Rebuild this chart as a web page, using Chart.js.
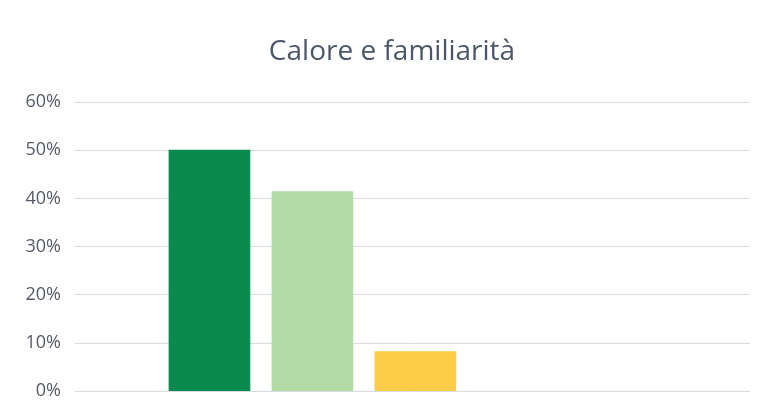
<!DOCTYPE html>
<html>
<head>
<meta charset="utf-8">
<script src="https://cdn.jsdelivr.net/npm/chart.js@4"></script>
<style>
  html, body { margin: 0; padding: 0; background: #ffffff; }
  #box { width: 767px; height: 416px; }
</style>
</head>
<body>
<div id="box"><canvas id="grafico"></canvas></div>
<script>
const titolo = "Calore e familiarità";
const categorie = [1, 2, 3];
const valori = [0.50, 0.414, 0.082];
const colori = ["#0b8a4f", "#b4daa5", "#fdcd48"];
const tickValori = [0, 0.1, 0.2, 0.3, 0.4, 0.5, 0.6];

const ctx = document.getElementById('grafico').getContext('2d');

// titolo disegnato a mano, un po' spostato a destra come nell'originale
const titoloPlugin = {
  id: 'titoloPlugin',
  afterDraw(chart) {
    const c = chart.ctx;
    c.save();
    c.font = "28px 'Open Sans'";
    c.fillStyle = "#4b5666";
    c.textAlign = "center";
    c.textBaseline = "middle";
    c.fillText(titolo, 392, 52);
    c.restore();
  }
};

const grafico = new Chart(ctx, {
  type: 'bar',
  data: {
    datasets: [{
      data: categorie.map((c, i) => ({ x: c, y: valori[i] })),
      backgroundColor: colori,
      borderWidth: 0,
      barThickness: 81
    }]
  },
  options: {
    responsive: true,
    maintainAspectRatio: false,
    animation: false,
    layout: { padding: { left: 0, right: 17, top: 102, bottom: 23 } },
    plugins: {
      legend: { display: false },
      tooltip: { enabled: false }
    },
    scales: {
      x: {
        type: 'linear',
        offset: false,
        min: -0.306,
        max: 6.25,
        display: false
      },
      y: {
        min: 0,
        max: 0.6,
        afterBuildTicks(scale) {
          scale.ticks = tickValori.map(v => ({ value: v }));
        },
        afterFit(scale) {
          scale.width = 75;
        },
        border: { display: false },
        grid: { color: "#d6dbe4", lineWidth: 1, drawTicks: false },
        ticks: {
          color: "#555b66",
          padding: 14,
          font: { family: "Open Sans", size: 18 },
          callback: v => Math.round(v * 100) + "%"
        }
      }
    }
  },
  plugins: [titoloPlugin]
});
</script>
</body>
</html>
